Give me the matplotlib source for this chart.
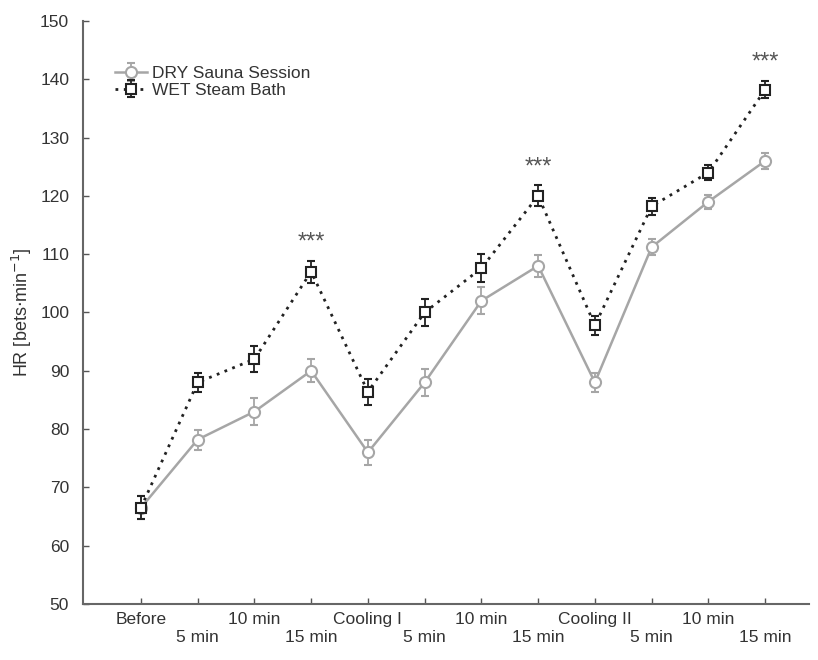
import matplotlib.pyplot as plt
import numpy as np

plt.rcParams['font.family'] = ['Liberation Sans', 'DejaVu Sans']

time_labels = ['Before', '5 min', '10 min', '15 min', 'Cooling I', '5 min', '10 min',
               '15 min', 'Cooling II', '5 min', '10 min', '15 min']
dry_hr = [66.5, 78.2, 83.0, 90.0, 76.0, 88.0, 102.0, 108.0, 88.0, 111.2, 119.0, 126.0]
dry_err = [2.0, 1.7, 2.3, 2.0, 2.2, 2.3, 2.3, 1.9, 1.6, 1.4, 1.2, 1.4]
wet_hr = [66.5, 88.0, 92.0, 107.0, 86.4, 100.0, 107.6, 120.0, 97.8, 118.2, 124.0, 138.2]
wet_err = [2.0, 1.7, 2.2, 1.9, 2.2, 2.3, 2.4, 1.8, 1.6, 1.4, 1.3, 1.5]
signif_idx = [3, 7, 11]

x = np.arange(len(time_labels))

fig = plt.figure(figsize=(8.18, 6.6), dpi=100)
ax = fig.add_axes([0.1015, 0.0848, 0.888, 0.8835])

ax.errorbar(x, dry_hr, yerr=dry_err, color='#a6a6a6', lw=1.8, marker='o', ms=8,
            mfc='white', mec='#a6a6a6', mew=1.5, capsize=3, elinewidth=1.3,
            capthick=1.3, label='DRY Sauna Session', zorder=3)
ax.errorbar(x, wet_hr, yerr=wet_err, color='#222222', lw=2, ls=(0, (1, 2)), marker='s',
            ms=7, mfc='white', mec='#222222', mew=1.5, capsize=3, elinewidth=1.3,
            capthick=1.3, label='WET Steam Bath', zorder=4)

for i in signif_idx:
    ax.text(x[i], wet_hr[i] + wet_err[i] + 1.2, '***', ha='center', va='bottom',
            fontsize=17, color='#555555')

ax.set_xlim(-1.02, 11.78)
ax.set_ylim(50, 150)
ax.set_yticks(np.arange(50, 151, 10))
ax.set_xticks(x)
ax.set_xticklabels([lab if i % 2 == 0 else '\n' + lab for i, lab in enumerate(time_labels)])
ax.tick_params(direction='in', length=4, width=1, colors='#555555', labelcolor='#333333',
               labelsize=12.5)
ax.tick_params(axis='y', pad=10)
ax.tick_params(axis='x', pad=6)
for s in ['top', 'right']:
    ax.spines[s].set_visible(False)
for s in ['left', 'bottom']:
    ax.spines[s].set_color('#666666')
    ax.spines[s].set_linewidth(1.5)

ax.set_ylabel(r'HR [bets$\cdot$min$^{-1}$]', fontsize=13, color='#333333', labelpad=4)

leg = ax.legend(loc='upper left', bbox_to_anchor=(0.035, 0.935), frameon=False,
                fontsize=12.5, handlelength=1.8, handletextpad=0.3, labelspacing=0.1,
                borderaxespad=0)
for t in leg.get_texts():
    t.set_color('#333333')

fig.savefig('out.png', dpi=100)
